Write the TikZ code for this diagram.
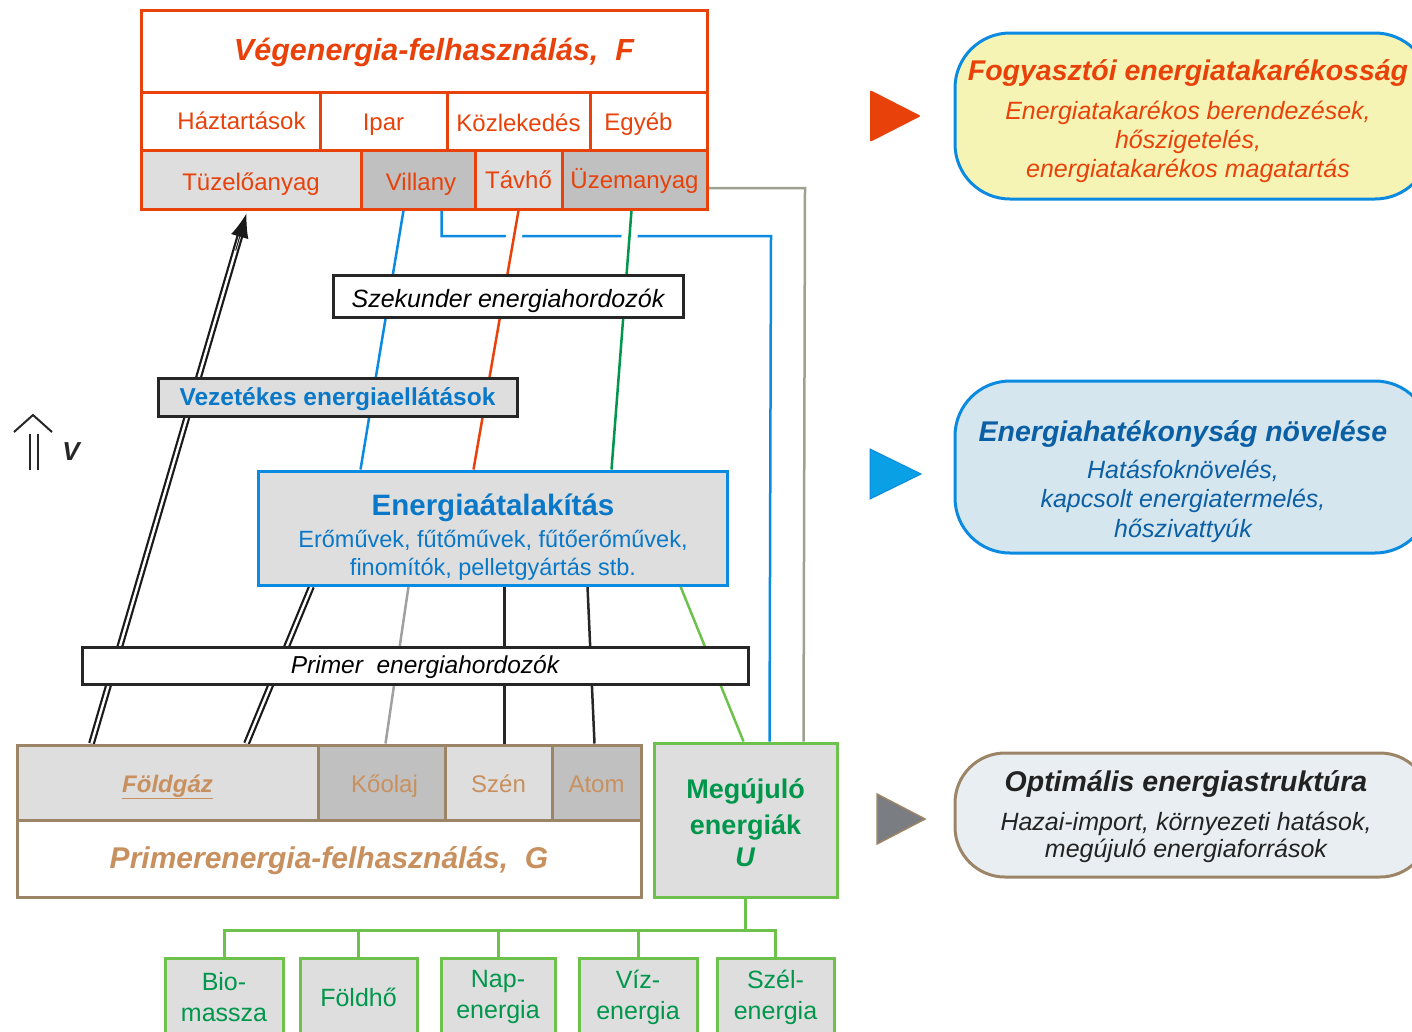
\documentclass[tikz,border=0pt]{standalone}
\usepackage{fontspec}
\setmainfont{Liberation Sans}
\usetikzlibrary{arrows.meta,calc}
\definecolor{cOr}{HTML}{E8410A}
\definecolor{cLG}{HTML}{DEDEDE}
\definecolor{cDG}{HTML}{C0C0C0}
\definecolor{cBl}{HTML}{0A8AE0}
\definecolor{cBlT}{HTML}{0A78C8}
\definecolor{cGrD}{HTML}{00964B}
\definecolor{cGrL}{HTML}{6CC24A}
\definecolor{cTan}{HTML}{9C8566}
\definecolor{cTanT}{HTML}{C8905E}
\definecolor{cGy}{HTML}{A0A0A0}
\definecolor{cGyO}{HTML}{A0A090}
\definecolor{cYel}{HTML}{F6F4B4}
\definecolor{cLBl}{HTML}{D6E6EE}
\definecolor{cLGy}{HTML}{E8EEF1}
\definecolor{cDBl}{HTML}{0B5FA5}
\definecolor{cTri}{HTML}{0AA0E6}
\definecolor{cGTri}{HTML}{7A7E83}
\definecolor{cTxt}{HTML}{222222}
\newcommand\fsz[2]{\fontsize{#1}{#2}\selectfont}
\pgfdeclarelayer{bg}
\pgfsetlayers{bg,main}
\begin{document}
\begin{tikzpicture}[x=1pt,y=-1pt,
  ocell/.style={draw=cOr,line width=3pt,text=cOr,inner sep=0pt,font=\fsz{24}{28}},
  tcell/.style={draw=cTan,line width=3pt,text=cTanT,inner sep=0pt,font=\fsz{24}{28}},
  gcell/.style={draw=cGrL,line width=3pt,fill=cLG,text=cGrD,inner sep=0pt,align=center,font=\fsz{25}{31}},
  bandbox/.style={draw=black!85,line width=3pt,inner sep=0pt},
  base/.style={text height=#1,text depth=5pt},
  wline/.style={line width=2.5pt},
  dbl/.style={draw=black!90,line width=2.2pt,double=white,double distance=2.4pt},
  rbox/.style={line width=3pt,rounded corners=55pt,minimum width=475,inner sep=0pt}]
\useasboundingbox (0,0) rectangle (1412,1031);

% ---------- top box: final energy ----------
\node[ocell,base=23pt,minimum width=566,minimum height=82,font=\bfseries\itshape\fsz{30.5}{34}] (vegt) at (424,51) {\hspace{20pt}Végenergia-felhasználás,\ \ F};
\node[ocell,base=21pt,minimum width=179,minimum height=58] (haz) at (230.5,121) {\hspace{22pt}Háztartások};
\node[ocell,base=23pt,minimum width=127,minimum height=58] (ipar) at (383.5,121) {Ipar};
\node[ocell,base=25pt,minimum width=143,minimum height=58] (kozl) at (518.5,121) {Közlekedés};
\node[ocell,base=23pt,minimum width=117,minimum height=58] (egyeb) at (648.5,121) {\hspace{-20pt}Egyéb};
\node[ocell,base=26pt,fill=cLG,minimum width=220,minimum height=59] (tuz) at (251,179.5) {Tüzelőanyag};
\node[ocell,base=26pt,fill=cDG,minimum width=114,minimum height=59] (vill) at (418,179.5) {\hspace{6pt}Villany};
\node[ocell,base=22pt,fill=cLG,minimum width=87,minimum height=59] (tav) at (518.5,179.5) {Távhő};
\node[ocell,base=22pt,fill=cDG,minimum width=145,minimum height=59] (uzem) at (634.5,179.5) {Üzemanyag};

% ---------- band boxes ----------
\node[bandbox,base=27pt,fill=white,minimum width=350,minimum height=42,font=\itshape\fsz{25}{28}] (szek) at (508,296) {Szekunder energiahordozók};
\node[bandbox,base=21pt,fill=cLG,minimum width=359,minimum height=38,text=cBlT,font=\bfseries\fsz{24.5}{28}] (vez) at (337.5,397) {Vezetékes energiaellátások};
\node[draw=cBl,line width=3pt,fill=cLG,minimum width=469,minimum height=114,inner sep=0pt] (ea) at (492.5,528) {};
\node[text=cBlT,align=center,inner sep=0pt,font=\fsz{23.5}{28}] (eatxt) at (493,537.5) {{\bfseries\fsz{29.5}{34}Energiaátalakítás}\\[4pt]Erőművek, fűtőművek, fűtőerőművek,\\finomítók, pelletgyártás stb.};
\node[bandbox,base=20pt,fill=white,minimum width=666,minimum height=37,font=\itshape\fsz{24.5}{28}] (prim) at (415,665.5) {\hspace{20pt}Primer\ \ energiahordozók};

% ---------- primary energy box ----------
\node[tcell,base=24pt,fill=cLG,minimum width=301,minimum height=75,font=\bfseries\itshape\fsz{24}{28}] (fgaz) at (167.5,782.5) {\underline{Földgáz}};
\node[tcell,base=24pt,fill=cDG,minimum width=127,minimum height=75] (kool) at (381.5,782.5) {\hspace{6pt}Kőolaj};
\node[tcell,base=24pt,fill=cLG,minimum width=107,minimum height=75] (szen) at (498.5,782.5) {Szén};
\node[tcell,base=24pt,fill=cDG,minimum width=89,minimum height=75] (atom) at (596.5,782.5) {Atom};
\node[tcell,base=24pt,fill=white,minimum width=624,minimum height=77,font=\bfseries\itshape\fsz{30}{34}] (primt) at (329,858.5) {Primerenergia-felhasználás,\ \ G};

% ---------- renewables ----------
\node[gcell,minimum width=183,minimum height=154,font=\bfseries\fsz{27}{34}] (meg) at (745.5,820) {};
\node[text=cGrD,align=center,inner sep=0pt,font=\bfseries\fsz{27}{34}] (megt) at (745.5,823) {Megújuló\\[2pt]energiák\\[-2pt]\textit{U}};
\node[gcell,minimum width=118,minimum height=78] (bio) at (224,997) {Bio-\\massza};
\node[gcell,minimum width=117,minimum height=78] (fho) at (358.5,997) {Földhő};
\node[gcell,minimum width=114,minimum height=78] (nap) at (498,997) {Nap-\\energia};
\node[gcell,minimum width=118,minimum height=78] (viz) at (638,997) {Víz-\\energia};
\node[gcell,minimum width=117,minimum height=78] (szel) at (775.5,997) {Szél-\\energia};
\coordinate (bus) at (741,930);

% ---------- connectors (behind boxes) ----------
\begin{pgfonlayer}{bg}
  \coordinate (bb) at (771,236);
  \coordinate (gb) at (805,188);
  \draw[cBl,wline] ([xshift=44]vill.south west) -- ([xshift=104]ea.north west);
  \draw[cBl,wline] ([xshift=82]vill.south west) |- (bb) -- ([xshift=117]meg.north west);
  \draw[cGyO,wline] ([yshift=-8.5]uzem.east) -- (gb) -- ([xshift=151]meg.north west);
  \draw[cOr,wline,preaction={draw=white,line width=16pt}] ([xshift=45]tav.south west) -- ([xshift=217]ea.north west);
  \draw[cGrD,wline,preaction={draw=white,line width=16pt}] ([xshift=71]uzem.south west) -- ([xshift=355]ea.north west);
  \draw[cGy,wline] ([xshift=152]ea.south west) -- ([xshift=69]kool.north west);
  \draw[black!85,wline] ([xshift=248]ea.south west) -- ([xshift=61]szen.north west);
  \draw[black!85,wline] ([xshift=331]ea.south west) -- ([xshift=44]atom.north west);
  \draw[cGrL,wline] ([xshift=424]ea.south west) -- ([xshift=91]meg.north west);
  \coordinate (d1s) at ([xshift=76]fgaz.north west);
  \coordinate (d1e) at ([xshift=107,yshift=-3]tuz.south west);
  \draw[dbl,shorten >=20pt] (d1s) -- (d1e);
  \draw[black!90,line width=1pt,-{Latex[length=24pt,width=18pt]}] ($(d1s)!0.93!(d1e)$) -- (d1e);
  \draw[dbl] ([xshift=231]fgaz.north west) -- ([xshift=55]ea.south west);
\end{pgfonlayer}

\draw[cGrL,line width=3pt] (meg.south) -- (meg.south |- bus);
\draw[cGrL,line width=3pt] (bio.north) |- (bus) -| (szel.north);
\draw[cGrL,line width=3pt] (fho.north) -- (fho.north |- bus);
\draw[cGrL,line width=3pt] (nap.north) -- (nap.north |- bus);
\draw[cGrL,line width=3pt] (viz.north) -- (viz.north |- bus);

% ---------- V arrow ----------
\draw[black!85,line width=2pt] (14,432) -- (33,415) -- (52,432);
\draw[black!85,line width=2.5pt] (30,434) -- (30,470) (38,434) -- (38,470);
\node[text=black!85,font=\bfseries\itshape\fsz{26}{30}] (vlab) at (71,452) {V};

% ---------- triangles ----------
\fill[cOr,rounded corners=2pt] (870,90) -- (921,116) -- (870,142) -- cycle;
\filldraw[fill=cTri,draw=cBl,line width=1pt] (870,449) -- (921,474) -- (870,499) -- cycle;
\filldraw[fill=cGTri,draw=cTan,line width=1.5pt] (877,794) -- (925,819) -- (877,844) -- cycle;

% ---------- right boxes ----------
\node[rbox,draw=cBl,fill=cYel,minimum height=166] (rb1) at (1192.5,116) {};
\node[text=cOr,align=center,inner sep=0pt,font=\itshape\fsz{25}{29}] (rb1t) at (1188,121.5) {{\bfseries\fsz{28.5}{33}Fogyasztói energiatakarékosság}\\[10pt]Energiatakarékos berendezések,\\hőszigetelés,\\energiatakarékos magatartás};
\node[rbox,draw=cBl,fill=cLBl,minimum height=172] (rb2) at (1192.5,467) {};
\node[text=cDBl,align=center,inner sep=0pt,font=\itshape\fsz{25}{29.5}] (rb2t) at (1183,481.5) {{\bfseries\fsz{28.5}{33}Energiahatékonyság növelése}\\[7pt]Hatásfoknövelés,\\kapcsolt energiatermelés,\\hőszivattyúk};
\node[rbox,draw=cTan,fill=cLGy,minimum height=124,rounded corners=50pt] (rb3) at (1192.5,815) {};
\node[text=cTxt,align=center,inner sep=0pt,font=\itshape\fsz{25}{27}] (rb3t) at (1186,817) {{\bfseries\fsz{28.5}{33}Optimális energiastruktúra}\\[12pt]Hazai-import, környezeti hatások,\\megújuló energiaforrások};
\end{tikzpicture}
\end{document}
